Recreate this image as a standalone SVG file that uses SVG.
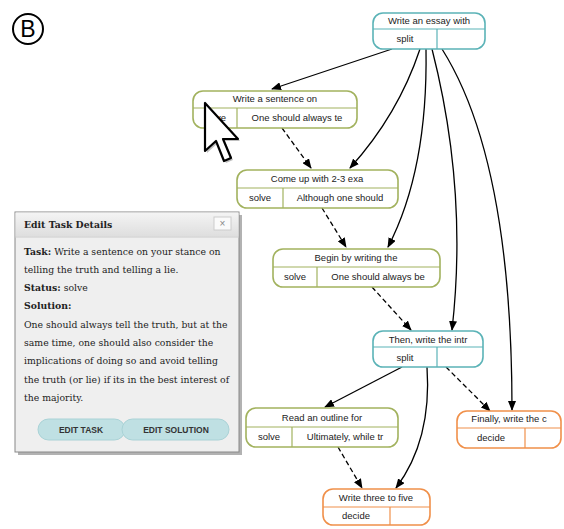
<svg xmlns="http://www.w3.org/2000/svg" width="564" height="529" viewBox="0 0 564 529">
<defs>
<marker id="ah" markerWidth="10" markerHeight="8" refX="9" refY="4" orient="auto" markerUnits="userSpaceOnUse">
<path d="M0,0 L10,4 L0,8 Z" fill="#000"/>
</marker>
<linearGradient id="hdr" x1="0" y1="0" x2="0" y2="1">
<stop offset="0" stop-color="#f4f4f4"/>
<stop offset="1" stop-color="#dedede"/>
</linearGradient>
</defs>
<style>
.nbox{fill:#fff;stroke-width:1.6}
.split{stroke:#5bb3b7}
.solve{stroke:#a2b25e}
.decide{stroke:#f0904a}
.ln{stroke-width:1.2}
.nt{font-family:"Liberation Sans",Arial,sans-serif;font-size:9.5px;fill:#222;text-anchor:middle}
.edge{fill:none;stroke:#000;stroke-width:1.3;marker-end:url(#ah)}
.dash{stroke-dasharray:5,3}
.pt{font-family:"DejaVu Serif","Liberation Serif",serif;font-size:9.3px;fill:#222}
.pb{font-weight:bold}
.btn{fill:#bfe0e3;stroke:#a9d2d6;stroke-width:1}
.bt{font-family:"Liberation Sans",Arial,sans-serif;font-size:8.5px;font-weight:bold;fill:#333;text-anchor:middle}
</style>
<rect width="564" height="529" fill="#fff"/>
<g id="label-b">
<circle cx="28" cy="29" r="15" fill="none" stroke="#000" stroke-width="2"/>
<text x="28" y="37" font-family="Liberation Sans,Arial,sans-serif" font-size="23" text-anchor="middle" fill="#000">B</text>
</g>
<g id="connectors">
<path class="edge" d="M392,49 L272,89"/>
<path class="edge" d="M420,49 Q398,115 350,168"/>
<path class="edge" d="M426,49 Q428,170 388,247"/>
<path class="edge" d="M432,49 Q468,190 452,330"/>
<path class="edge" d="M442,49 Q512,160 512,410"/>
<path class="edge dash" d="M282,128 L311,168"/>
<path class="edge dash" d="M322,208 L346,247"/>
<path class="edge dash" d="M372,287 L411,330"/>
<path class="edge" d="M402,367 L325,407"/>
<path class="edge" d="M427,367 Q432,440 396,488"/>
<path class="edge dash" d="M446,367 L490,411"/>
<path class="edge dash" d="M338,447 L362,488"/>
</g>
<g id="n1">
<rect class="nbox split" x="373" y="13" width="112" height="36" rx="10"/>
<line class="split ln" x1="373" y1="29" x2="485" y2="29"/>
<line class="split ln" x1="437" y1="29" x2="437" y2="49"/>
<text class="nt" x="429" y="24">Write an essay with</text>
<text class="nt" x="405" y="42">split</text>
</g>
<g id="n2">
<rect class="nbox solve" x="193" y="91" width="164" height="37" rx="10"/>
<line class="solve ln" x1="193" y1="108" x2="357" y2="108"/>
<line class="solve ln" x1="237" y1="108" x2="237" y2="128"/>
<text class="nt" x="275" y="102">Write a sentence on</text>
<text class="nt" x="215" y="121">solve</text>
<text class="nt" x="297" y="121">One should always te</text>
</g>
<g id="n3">
<rect class="nbox solve" x="237" y="170" width="161" height="38" rx="10"/>
<line class="solve ln" x1="237" y1="188" x2="398" y2="188"/>
<line class="solve ln" x1="283" y1="188" x2="283" y2="208"/>
<text class="nt" x="317" y="182">Come up with 2-3 exa</text>
<text class="nt" x="260" y="201">solve</text>
<text class="nt" x="340" y="201">Although one should</text>
</g>
<g id="n4">
<rect class="nbox solve" x="273" y="249" width="167" height="38" rx="10"/>
<line class="solve ln" x1="273" y1="267" x2="440" y2="267"/>
<line class="solve ln" x1="317" y1="267" x2="317" y2="287"/>
<text class="nt" x="356" y="261">Begin by writing the</text>
<text class="nt" x="295" y="280">solve</text>
<text class="nt" x="378" y="280">One should always be</text>
</g>
<g id="n5">
<rect class="nbox split" x="373" y="331" width="110" height="36" rx="10"/>
<line class="split ln" x1="373" y1="347" x2="483" y2="347"/>
<line class="split ln" x1="437" y1="347" x2="437" y2="367"/>
<text class="nt" x="428" y="343">Then, write the intr</text>
<text class="nt" x="405" y="361">split</text>
</g>
<g id="n6">
<rect class="nbox solve" x="246" y="408" width="152" height="39" rx="10"/>
<line class="solve ln" x1="246" y1="427" x2="398" y2="427"/>
<line class="solve ln" x1="292" y1="427" x2="292" y2="447"/>
<text class="nt" x="322" y="421">Read an outline for</text>
<text class="nt" x="269" y="440">solve</text>
<text class="nt" x="345" y="440">Ultimately, while tr</text>
</g>
<g id="n7">
<rect class="nbox decide" x="457" y="411" width="104" height="37" rx="10"/>
<line class="decide ln" x1="457" y1="428" x2="561" y2="428"/>
<line class="decide ln" x1="525" y1="428" x2="525" y2="448"/>
<text class="nt" x="509" y="422">Finally, write the c</text>
<text class="nt" x="491" y="441">decide</text>
</g>
<g id="n8">
<rect class="nbox decide" x="323" y="489" width="107" height="36" rx="10"/>
<line class="decide ln" x1="323" y1="507" x2="430" y2="507"/>
<line class="decide ln" x1="390" y1="507" x2="390" y2="525"/>
<text class="nt" x="376" y="501">Write three to five</text>
<text class="nt" x="356" y="519">decide</text>
</g>
<g id="cursor">
<polygon points="207,105 207,153 218,143 226,163 233,160 225,141 240,141" fill="#000" opacity="0.25"/>
<polygon points="205,103 205,151 216,141 224,161 231,158 223,139 238,139" fill="#fff" stroke="#000" stroke-width="2.2" stroke-linejoin="round"/>
</g>
<g id="panel">
<rect x="18" y="215" width="224" height="240" fill="#555" opacity="0.45"/>
<rect x="15" y="212" width="224" height="240" fill="#efefef" stroke="#888" stroke-width="1"/>
<rect x="15.5" y="212.5" width="223" height="24" fill="url(#hdr)"/>
<line x1="15" y1="237" x2="239" y2="237" stroke="#ccc"/>
<text class="pt pb" x="24" y="228">Edit Task Details</text>
<rect x="214" y="217" width="17" height="13" fill="#fafafa" stroke="#ccc"/>
<text x="222.5" y="227" font-family="Liberation Sans,Arial,sans-serif" font-size="10" fill="#888" text-anchor="middle">×</text>
<text class="pt" x="24" y="255"><tspan class="pb">Task:</tspan> Write a sentence on your stance on</text>
<text class="pt" x="24" y="273">telling the truth and telling a lie.</text>
<text class="pt" x="24" y="291"><tspan class="pb">Status:</tspan> solve</text>
<text class="pt pb" x="24" y="309">Solution:</text>
<text class="pt" x="24" y="328">One should always tell the truth, but at the</text>
<text class="pt" x="24" y="346">same time, one should also consider the</text>
<text class="pt" x="24" y="364">implications of doing so and avoid telling</text>
<text class="pt" x="24" y="383">the truth (or lie) if its in the best interest of</text>
<text class="pt" x="24" y="401">the majority.</text>
<rect class="btn" x="38" y="419" width="87" height="21" rx="10.5"/>
<rect class="btn" x="122" y="419" width="107" height="21" rx="10.5"/>
<text class="bt" x="81" y="433">EDIT TASK</text>
<text class="bt" x="176" y="433">EDIT SOLUTION</text>
</g>
</svg>
